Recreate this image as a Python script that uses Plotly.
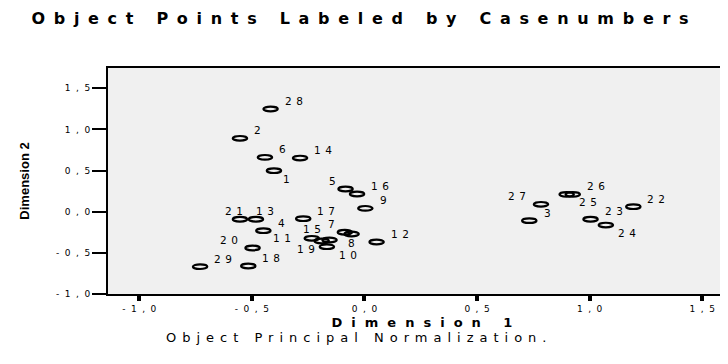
import plotly.graph_objects as go

# ---- data ----
case_numbers = [str(i) for i in range(1, 30)]
dim1 = [-0.402, -0.553, 0.732, -0.449, -0.084, -0.442, -0.087, -0.057, 0.004, -0.167,
        -0.190, 0.054, -0.482, -0.286, -0.234, -0.033, -0.272, -0.516, -0.155, -0.497,
        -0.553, 1.194, 1.004, 1.072, 0.898, 0.925, 0.784, -0.417, -0.730]
dim2 = [0.498, 0.892, -0.109, -0.231, 0.276, 0.661, -0.250, -0.271, 0.041, -0.425,
        -0.356, -0.368, -0.092, 0.652, -0.323, 0.215, -0.085, -0.660, -0.344, -0.441,
        -0.092, 0.061, -0.092, -0.162, 0.211, 0.211, 0.090, 1.248, -0.668]
# label placement code for each case (style)
label_place = ['br', 'tr', 'tr', 'tr', 'tl', 'tr', 'tl', 'b', 'tr', 'br',
               'l', 'tr', 'tr0', 'tr', 't', 'tr', 'tr', 'tr', 'bl', 'tl',
               'tl0', 'tr', 'tr', 'br', 'br', 'tr', 'tl', 'tr', 'tr']

x_tick_vals = [-1.0, -0.5, 0.0, 0.5, 1.0, 1.5]
x_tick_text = ['-1,0', '-0,5', '0,0', '0,5', '1,0', '1,5']
y_tick_vals = [-1.0, -0.5, 0.0, 0.5, 1.0, 1.5]
y_tick_text = ['-1,0', '-0,5', '0,0', '0,5', '1,0', '1,5']

title_text = 'Object Points Labeled by Casenumbers'
x_title = 'Dimension 1'
y_title = 'Dimension 2'
footnote = 'Object Principal Normalization.'

FONT = 'DejaVu Sans'


def spaced(t, px):
    # widen the text (the reference uses a horizontally stretched face);
    # the last character gets no trailing space so anchors stay exact
    if len(t) < 2:
        return t
    return f'<span style="letter-spacing:{px}px">{t[:-1]}</span>{t[-1]}'


def offset(code, n):
    table = {
        'tr': (13 + 5 * n, 8),
        'br': (5 + 8 * n, -8),
        'tl': (-(3 + 10.5 * n), 8),
        'bl': (-(3 + 10.5 * n), -9),
        't': (0, 9),
        'b': (0, -9),
        'l': (-(16 + 12 * n), 3),
        'tr0': (9, 8.6),
        'tl0': (-6, 8.6),
    }
    return table[code]


LABEL_LS = 4.5

fig = go.Figure()
fig.add_trace(go.Scatter(
    x=dim1, y=dim2, mode='markers', text=case_numbers,
    marker=dict(size=14, opacity=0), hoverinfo='text+x+y', showlegend=False,
))

shapes = []
annotations = []
for xv, yv, lab, code in zip(dim1, dim2, case_numbers, label_place):
    shapes.append(dict(
        type='circle', xref='x', yref='y', xsizemode='pixel', ysizemode='pixel',
        xanchor=xv, yanchor=yv, x0=-7.2, x1=7.2, y0=-2.3, y1=2.3,
        line=dict(color='black', width=2.2), fillcolor='rgba(0,0,0,0)', layer='above',
    ))
    dx, dy = offset(code, len(lab))
    annotations.append(dict(
        x=xv, y=yv, xref='x', yref='y', text=spaced(lab, LABEL_LS), showarrow=False,
        xanchor='center', yanchor='middle', xshift=dx, yshift=dy,
        font=dict(family=FONT, size=10.5, color='black'),
    ))

# page body adds an 8px offset, so the layout is laid out 8px up/left
pl, pr, pt, pb = 100, 0, 60, 78
W, H = 728, 364
pw, ph = W - pl - pr, H - pt - pb
annotations.append(dict(
    x=(348 - pl) / pw, y=(H - pb - 329.5) / ph, xref='paper', yref='paper',
    text=spaced(footnote, 6), showarrow=False, xanchor='center', yanchor='middle',
    font=dict(family=FONT, size=13, color='black'),
))

fig.update_layout(
    width=W, height=H,
    margin=dict(l=pl, r=pr, t=pt, b=pb, pad=0, autoexpand=False),
    paper_bgcolor='white', plot_bgcolor='#f0f0f0',
    title=dict(text=spaced(title_text, 8.7), x=352 / W, xref='container', xanchor='center',
               y=1 - 10.5 / H, yref='container', yanchor='middle', automargin=False,
               font=dict(family=FONT, size=16, color='black', weight='bold')),
    xaxis=dict(range=[-1.139, 1.65], showgrid=False, zeroline=False, automargin=False,
               showline=True, linecolor='black', linewidth=2, mirror=True,
               ticks='outside', ticklen=5, tickwidth=4, tickcolor='black',
               tickvals=x_tick_vals, ticktext=[spaced(t, 5.5) for t in x_tick_text],
               tickfont=dict(family=FONT, size=9, color='black'),
               title=dict(text=spaced(x_title, 9), standoff=5.5,
                          font=dict(family=FONT, size=13, color='black', weight='bold'))),
    yaxis=dict(range=[-1.0, 1.746], showgrid=False, zeroline=False, automargin=False,
               showline=True, linecolor='black', linewidth=2, mirror=False,
               ticks='outside', ticklen=14, tickwidth=2, tickcolor='black',
               tickvals=y_tick_vals, ticktext=[spaced(t, 5.5) for t in y_tick_text],
               tickfont=dict(family=FONT, size=9, color='black'),
               title=dict(text=y_title, standoff=24,
                          font=dict(family='Liberation Sans', size=13,
                                    color='black', weight='bold'))),
    shapes=shapes, annotations=annotations,
)

fig.write_html('out.html')
